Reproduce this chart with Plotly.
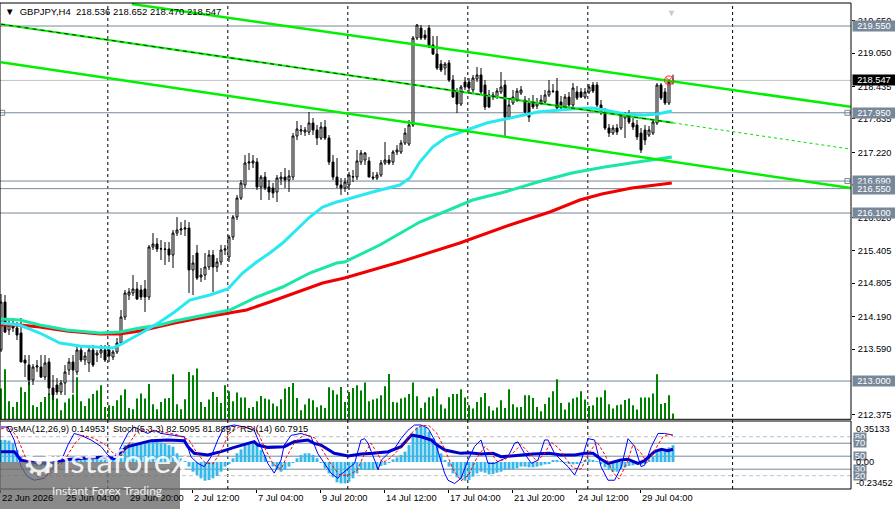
import plotly.graph_objects as go

# GBPJPY H4 candles (bar index 0 .. 168)
bars = list(range(169))

opens = [213.573, 214.458, 213.942, 214.034, 213.979, 213.886, 213.388, 213.296, 213.019, 213.259,
         213.259, 213.074, 213.351, 212.871, 212.927, 212.798, 212.964, 213.204, 213.351, 213.167,
         213.573, 213.388, 213.333, 213.573, 213.480, 213.517, 213.573, 213.573, 213.443, 213.536,
         213.702, 214.181, 214.587, 214.624, 214.698, 214.680, 214.698, 214.550, 215.473, 215.528,
         215.436, 215.436, 215.436, 215.325, 215.731, 215.787, 215.805, 215.823, 215.049, 215.362,
         214.919, 214.956, 215.104, 215.325, 215.104, 215.196, 215.417, 215.288, 215.657, 216.026,
         216.377, 216.617, 217.023, 217.023, 217.041, 216.580, 216.764, 216.580, 216.561, 216.488,
         216.727, 216.764, 216.709, 216.764, 217.521, 217.613, 217.595, 217.595, 217.761, 217.632,
         217.484, 217.687, 217.484, 217.041, 216.764, 216.617, 216.561, 216.617, 216.764, 216.764,
         217.041, 217.078, 217.060, 216.764, 216.746, 216.801, 217.023, 217.078, 217.041, 217.226,
         217.226, 217.392, 217.373, 217.724, 219.329, 219.513, 219.384, 219.513, 219.200, 219.034,
         218.849, 218.775, 218.868, 218.554, 218.333, 218.111, 218.517, 218.517, 218.370, 218.572,
         218.646, 218.462, 218.277, 218.240, 218.240, 218.333, 218.462, 217.871, 218.130, 218.185,
         218.314, 218.185, 218.130, 218.148, 218.074, 218.130, 218.148, 218.277, 218.351, 218.351,
         218.148, 218.037, 218.240, 218.093, 218.333, 218.333, 218.240, 218.333, 218.462, 218.462,
         218.093, 217.945, 217.668, 217.576, 217.668, 217.668, 217.853, 217.908, 217.761, 217.724,
         217.576, 217.632, 217.539, 217.576, 217.761, 218.462, 218.333, 218.130, 218.536]
highs = [214.606, 214.587, 214.126, 214.163, 214.089, 214.163, 213.480, 213.480, 213.314, 213.388,
         213.480, 213.480, 213.425, 213.111, 213.056, 213.019, 213.296, 213.425, 213.480, 213.665,
         213.665, 213.536, 213.609, 213.665, 213.573, 213.665, 213.665, 213.665, 213.573, 213.794,
         214.311, 214.680, 214.716, 214.956, 214.827, 214.772, 214.864, 215.510, 215.731, 215.639,
         215.602, 215.565, 215.565, 215.787, 216.026, 215.934, 215.971, 215.934, 215.325, 215.510,
         215.085, 215.362, 215.417, 215.417, 215.270, 215.510, 215.510, 215.694, 216.063, 216.432,
         216.709, 217.170, 217.207, 217.170, 217.115, 216.801, 216.857, 216.709, 216.654, 216.801,
         216.857, 216.931, 216.894, 217.576, 217.798, 217.724, 217.687, 217.964, 217.853, 217.724,
         217.779, 217.816, 217.539, 217.170, 217.115, 216.746, 216.746, 216.857, 216.894, 217.263,
         217.263, 217.226, 217.133, 216.857, 216.857, 217.078, 217.410, 217.170, 217.263, 217.355,
         217.447, 217.668, 217.816, 219.366, 219.587, 219.569, 219.477, 219.569, 219.366, 219.366,
         218.923, 218.886, 218.923, 218.646, 218.406, 218.462, 218.609, 218.591, 218.646, 218.794,
         218.775, 218.554, 218.370, 218.333, 218.406, 218.702, 218.554, 218.185, 218.370, 218.406,
         218.443, 218.259, 218.222, 218.277, 218.222, 218.277, 218.370, 218.554, 218.480, 218.591,
         218.259, 218.296, 218.333, 218.499, 218.443, 218.406, 218.406, 218.480, 218.517, 218.517,
         218.185, 218.037, 217.742, 217.724, 217.742, 217.964, 217.964, 218.001, 217.853, 217.816,
         217.668, 217.724, 217.705, 217.816, 218.499, 218.499, 218.406, 218.554, 218.652]
lows = [213.536, 213.886, 213.849, 213.905, 213.757, 213.351, 213.074, 212.927, 212.927, 213.167,
        213.056, 213.019, 212.742, 212.650, 212.742, 212.742, 212.742, 213.111, 212.779, 213.111,
        213.351, 213.296, 213.167, 213.259, 213.351, 213.425, 213.351, 213.351, 213.388, 213.499,
        213.665, 214.126, 214.495, 214.569, 214.495, 214.495, 214.274, 214.495, 215.417, 215.381,
        215.233, 215.141, 215.196, 215.085, 215.676, 215.694, 215.676, 214.624, 214.587, 214.864,
        214.827, 214.864, 215.049, 214.643, 215.012, 215.141, 215.325, 215.196, 215.602, 215.971,
        216.340, 216.561, 216.894, 216.931, 216.525, 216.340, 216.525, 216.340, 216.377, 216.303,
        216.617, 216.561, 216.488, 216.709, 217.447, 217.539, 217.521, 217.539, 217.539, 217.355,
        217.447, 217.447, 216.986, 216.709, 216.561, 216.432, 216.488, 216.525, 216.672, 216.709,
        216.986, 216.986, 216.764, 216.709, 216.709, 216.764, 216.986, 216.986, 216.986, 217.170,
        217.189, 217.355, 217.336, 217.687, 219.292, 219.292, 219.292, 219.144, 219.015, 218.739,
        218.702, 218.646, 218.517, 218.222, 217.945, 218.074, 218.370, 218.333, 218.314, 218.517,
        218.277, 218.001, 218.037, 218.185, 218.204, 218.296, 217.503, 217.835, 218.093, 218.148,
        218.277, 217.927, 217.779, 218.019, 218.019, 218.093, 218.111, 218.240, 218.314, 218.001,
        218.019, 218.001, 218.056, 218.056, 218.185, 218.222, 218.204, 218.296, 218.314, 218.056,
        217.908, 217.632, 217.503, 217.539, 217.539, 217.632, 217.484, 217.742, 217.632, 217.447,
        217.207, 217.355, 217.503, 217.539, 217.724, 218.185, 218.093, 218.093, 218.470]
closes = [214.458, 213.905, 214.034, 213.979, 213.849, 213.351, 213.333, 213.019, 213.259, 213.277,
          213.074, 213.333, 212.871, 212.742, 212.798, 212.964, 213.167, 213.351, 213.204, 213.573,
          213.388, 213.462, 213.573, 213.296, 213.517, 213.573, 213.388, 213.462, 213.536, 213.702,
          214.181, 214.624, 214.643, 214.698, 214.514, 214.550, 214.550, 215.473, 215.528, 215.436,
          215.440, 215.430, 215.325, 215.731, 215.787, 215.805, 215.823, 215.049, 215.178, 214.901,
          214.956, 215.104, 215.325, 215.104, 215.196, 215.417, 215.436, 215.657, 216.026, 216.377,
          216.654, 217.023, 217.041, 217.060, 216.580, 216.764, 216.561, 216.488, 216.469, 216.746,
          216.764, 216.709, 216.783, 217.521, 217.650, 217.632, 217.632, 217.761, 217.632, 217.484,
          217.687, 217.484, 217.041, 216.764, 216.617, 216.561, 216.672, 216.801, 216.770, 217.060,
          217.207, 217.207, 216.764, 216.746, 216.801, 217.023, 217.078, 217.023, 217.226, 217.263,
          217.392, 217.576, 217.724, 219.329, 219.569, 219.329, 219.329, 219.163, 219.034, 218.775,
          218.739, 218.849, 218.554, 218.240, 218.111, 218.425, 218.425, 218.406, 218.591, 218.646,
          218.333, 218.056, 218.056, 218.277, 218.351, 218.425, 217.871, 218.093, 218.240, 218.351,
          218.370, 217.964, 217.871, 218.056, 218.130, 218.185, 218.277, 218.351, 218.345, 218.037,
          218.037, 218.240, 218.093, 218.406, 218.222, 218.240, 218.333, 218.425, 218.351, 218.093,
          217.945, 217.668, 217.576, 217.668, 217.595, 217.908, 217.908, 217.779, 217.687, 217.503,
          217.263, 217.447, 217.632, 217.779, 218.462, 218.222, 218.130, 218.517, 218.547]

volumes = [3070, 5000, 1800, 1230, 1730, 3200, 2730, 3730, 1400, 1230,
           1730, 2230, 2570, 2400, 2070, 900, 1670, 2070, 2470, 4200,
           1800, 1330, 2070, 2530, 2870, 3400, 1230, 1400, 1330, 1900,
           2400, 3000, 1130, 1000, 2070, 2570, 2070, 3530, 1500, 1000,
           1730, 2070, 2130, 4500, 1500, 1000, 2000, 4730, 4400, 5070,
           1730, 1230, 1970, 2730, 2230, 1630, 3400, 2800, 1800, 2670,
           2170, 2170, 1130, 1230, 1800, 2330, 2070, 1970, 1570, 1300,
           2000, 3070, 3230, 3630, 2130, 900, 1470, 2070, 1900, 1200,
           1400, 1130, 3200, 2900, 2470, 3230, 1730, 2730, 3130, 3400,
           2870, 3670, 1800, 1970, 2070, 2400, 3300, 4530, 1730, 1670,
           2070, 2170, 2530, 3670, 2300, 1130, 1670, 2200, 2300, 3070,
           1470, 1070, 2200, 2530, 2530, 3000, 2170, 1400, 1070, 1730,
           2200, 2630, 1300, 870, 1170, 1900, 1130, 3000, 1500, 1200,
           1230, 2400, 2400, 2130, 1230, 800, 1530, 2170, 2800, 4000,
           1630, 970, 1670, 2070, 2200, 2800, 1970, 1330, 1400, 2200,
           2200, 2900, 1500, 1070, 1400, 1470, 1930, 2070, 1400, 970,
           2170, 2170, 2170, 2570, 4500, 1530, 1630, 2400, 570]

# moving averages, sampled along the lines (bar, price)
ma_fast_x = [0, 4.7, 9.7, 14.7, 19.7, 24.7, 27.9, 29.7, 32.9, 36.4, 39.7, 43.4, 47.2, 52.2, 56.7,
             60.4, 63.9, 67.2, 70.4, 73.9, 77.2, 80.4, 83.9, 85.9, 92.9, 99.7, 102.2, 104.7, 107.9,
             111.4, 116.4, 121.4, 128.4, 134.2, 142.7, 147.7, 150.9, 155.9, 160.9, 164.2, 167.7]
ma_fast_y = [214.071, 214.034, 213.886, 213.702, 213.646, 213.628, 213.609, 213.665, 213.794, 213.942,
             214.089, 214.274, 214.495, 214.587, 214.698, 214.993, 215.196, 215.362, 215.547, 215.787,
             216.026, 216.211, 216.303, 216.340, 216.488, 216.617, 216.746, 217.041, 217.318, 217.503,
             217.632, 217.761, 217.871, 217.964, 218.019, 218.037, 218.001, 217.927, 217.908, 217.927,
             217.982]
ma_mid_x = [0, 4.7, 9.7, 16.4, 24.7, 29.7, 34.7, 39.7, 43.4, 49.7, 57.2, 63.9, 70.4, 77.2, 83.9,
            85.9, 94.7, 104.7, 117.9, 125.9, 134.2, 142.7, 150.9, 159.2, 167.7]
ma_mid_y = [214.145, 214.126, 214.034, 213.942, 213.886, 213.905, 213.979, 214.034, 214.107, 214.200,
            214.311, 214.550, 214.735, 214.993, 215.178, 215.196, 215.510, 215.934, 216.340, 216.488,
            216.672, 216.838, 216.949, 217.041, 217.133]
ma_slow_x = [0, 4.7, 9.7, 16.4, 24.7, 29.7, 34.7, 39.7, 43.4, 49.7, 61.4, 67.2, 75.4, 80.4, 85.9,
             99.7, 114.7, 127.2, 137.2, 144.7, 150.2, 157.7, 167.7]
ma_slow_y = [214.034, 214.034, 213.997, 213.923, 213.868, 213.868, 213.923, 214.015, 214.071, 214.163,
             214.311, 214.458, 214.680, 214.809, 214.901, 215.196, 215.547, 215.879, 216.119, 216.340,
             216.451, 216.561, 216.654]

# trend channel (bar, price) anchors
chan_top_x = [32.7, 212.4]
chan_top_y = [219.956, 218.060]
chan_mid_x = [0, 168]
chan_mid_y = [219.584, 217.764]
chan_mid_ext_x = [168, 212.4]
chan_mid_ext_y = [217.764, 217.279]
chan_low_x = [0, 212.4]
chan_low_y = [218.882, 216.561]

levels = [219.550, 217.950, 216.690, 216.550, 216.100, 213.000]
last_price = 218.547
price_ticks = [219.650, 219.050, 218.435, 217.835, 217.220, 216.620, 216.020,
               215.405, 214.805, 214.190, 213.590, 212.375]

time_ticks = [0, 16, 32, 48, 64, 80, 96, 112, 128, 144, 160]
time_labels = ["22 Jun 2026", "25 Jun 04:00", "29 Jun 20:00", "2 Jul 12:00", "7 Jul 04:00",
               "9 Jul 20:00", "14 Jul 12:00", "17 Jul 04:00", "21 Jul 20:00", "24 Jul 12:00",
               "29 Jul 04:00"]
grid_bars = [26.7, 56.7, 86.7, 116.7, 146.7, 182.9]

# OsMA(12,26,9) histogram
osma = [0.195, 0.195, 0.19, 0.166, 0.107, 0.047, 0.003, -0.027, -0.041, -0.041,
        -0.041, -0.035, -0.041, -0.035, -0.018, -0.006, 0.012, 0.024, 0.033, 0.041,
        0.047, 0.041, 0.038, 0.033, 0.030, 0.024, 0.018, 0.012, 0.024, 0.077,
        0.121, 0.150, 0.166, 0.172, 0.172, 0.160, 0.160, 0.180, 0.189, 0.180,
        0.172, 0.160, 0.150, 0.136, 0.077, 0.033, 0.003, -0.041, -0.086, -0.115,
        -0.145, -0.166, -0.160, -0.145, -0.124, -0.086, -0.041, -0.012, 0.033, 0.077,
        0.112, 0.150, 0.172, 0.180, 0.160, 0.107, 0.062, 0.003, -0.041, -0.071,
        -0.086, -0.071, -0.041, -0.006, 0.033, 0.062, 0.077, 0.077, 0.062, 0.033,
        -0.006, -0.056, -0.101, -0.136, -0.180, -0.190, -0.190, -0.175, -0.145, -0.101,
        -0.071, -0.071, -0.071, -0.071, -0.056, -0.035, -0.027, -0.006, 0.024, 0.041,
        0.062, 0.092, 0.150, 0.254, 0.308, 0.320, 0.308, 0.270, 0.210, 0.150,
        0.077, 0.018, -0.041, -0.101, -0.136, -0.154, -0.166, -0.160, -0.130, -0.101,
        -0.086, -0.095, -0.110, -0.107, -0.095, -0.086, -0.071, -0.065, -0.065, -0.056,
        -0.041, -0.041, -0.047, -0.047, -0.041, -0.032, -0.021, -0.012, 0.012, 0.012,
        0.003, -0.006, -0.018, -0.021, -0.012, -0.006, 0.012, 0.024, 0.018, 0.003,
        -0.018, -0.047, -0.071, -0.086, -0.086, -0.065, -0.047, -0.035, -0.030, -0.024,
        -0.024, -0.012, 0.012, 0.047, 0.085, 0.100, 0.115, 0.130, 0.1495]

# Stochastic(5,3,3) main / signal and RSI(14), sampled
stoch_x = [0, 1.7, 3.3, 5, 6.7, 8.3, 10.8, 13.3, 15, 16.7, 18.3, 20, 22.5, 25, 26.7, 28.3, 30,
           31.7, 33.3, 35, 36.7, 38.3, 40, 43.3, 45.8, 47.5, 49.2, 50.8, 52.5, 54.2, 55.8, 58.3,
           60.8, 63.3, 65, 66.7, 68.3, 70, 70.8, 72.5, 75, 77.5, 79.2, 80.8, 82.5, 84.2, 85,
           88.4, 90, 90.9, 91.75, 93.4, 94.25, 95.1, 96.75, 98.4, 100, 101.75, 103.4, 105, 106.75,
           108.4, 110, 110.9, 111.75, 113.4, 115, 116.75, 118.4, 120, 121.75, 123.4, 125, 126.75,
           128.4, 129.25, 130.9, 132.6, 134.25, 135.9, 136.75, 138.4, 140, 141.75, 143.4, 145.1,
           146.75, 148.4, 150, 151.75, 153.4, 155.1, 156.75, 158.4, 160, 160.9, 162.6, 164.25,
           165.9, 168]
stoch_main = [95, 95, 75, 34, 18, 13, 16, 34, 42, 67, 85, 82, 75, 65, 52, 44, 65,
              85, 95, 90, 85, 90, 85, 82, 80, 49, 39, 34, 49, 75, 95, 98,
              95, 90, 65, 39, 24, 44, 67, 82, 85, 80, 54, 39, 24, 16, 22,
              39, 75, 77, 70, 44, 29, 44, 54, 62, 77, 90, 98, 98, 93,
              75, 44, 24, 13, 8, 16, 44, 65, 75, 39, 39, 44, 49,
              70, 72, 54, 39, 44, 75, 75, 54, 44, 34, 21, 44,
              77, 75, 34, 13, 13, 34, 77, 65, 34, 36, 65, 85,
              85, 82.51]
signal_x = [0, 2, 4, 6, 8, 10, 12, 14.5, 16.5, 18.5, 20.5, 23, 26, 28, 30, 32, 34, 36, 38, 40,
            44, 47, 49, 51, 53, 55, 57, 59.5, 62, 64, 66, 68, 70, 71.5, 73.5, 76, 78.5, 80.5,
            82.5, 84.5, 86.5, 89, 91, 92.5, 94, 95.5, 97.5, 99, 101, 103, 105, 107, 109, 111,
            113, 115, 117, 119, 121, 122.5, 124, 126, 128, 130, 132, 134, 136, 137.5, 139.5,
            141, 143, 145, 147, 149, 151, 153, 154.5, 156.5, 158, 160, 161.5, 163.5, 165.5,
            167, 168]
stoch_signal = [92, 95, 80, 50, 25, 15, 22, 33, 50, 70, 82, 78, 68, 55, 50, 70, 88, 92, 88, 88,
                83, 75, 55, 40, 38, 58, 85, 95, 96, 90, 62, 38, 30, 50, 72, 84, 78, 58,
                38, 22, 20, 28, 55, 70, 55, 40, 48, 58, 70, 88, 97, 97, 85, 60,
                30, 12, 22, 48, 65, 55, 42, 45, 55, 68, 55, 42, 55, 72, 62,
                48, 32, 30, 55, 72, 52, 25, 15, 40, 68, 55, 40, 60, 80,
                84, 81.89]
rsi_x = [0, 3.3, 5, 8.3, 12.5, 16.7, 20.8, 25, 28.3, 30, 31.7, 35, 37.5, 41.7, 45.8, 46.7, 48.3,
         51.7, 55, 58.3, 61.7, 63.3, 64.2, 66.7, 70.8, 73.3, 76.7, 78.3, 80, 81.7, 83.3, 86.8,
         90, 93, 96.8, 100, 102.6, 105, 107.6, 109, 111, 113, 115, 117, 120, 123, 125, 127.5,
         130, 133, 137, 140, 143.5, 146, 148, 150, 151.8, 155, 156.7, 159.25, 160.9, 163.4,
         165.1, 166.75, 168]
rsi = [57, 57, 44, 40, 39, 45, 46.7, 48.3, 46.7, 57, 64.7, 69.8, 73.9, 74.9, 73.9, 64.7, 54.4,
       51.9, 57, 63.6, 69.8, 72.4, 67.2, 63.6, 64.7, 72.4, 74.9, 69.8, 67.2, 60.6, 54.4, 50.3,
       53.4, 54.4, 57, 64.7, 82.6, 80, 74.9, 67.2, 59.5, 57, 54.4, 55.4, 53.4, 54.4, 49.3, 50.3,
       51.9, 53.4, 54.4, 51.9, 51.9, 54.4, 54.4, 45.2, 39, 44.2, 45.2, 39, 43.2, 57,
       60.6, 58.5, 60.79]
osc_levels = [80, 70, 50, 30, 20]

FONT = "Liberation Sans"
FS = 9.3
SLATE = "#778899"

fig = go.Figure()

# volumes on the base axis so the candles sit above them
fig.add_trace(go.Bar(x=bars, y=volumes, width=0.25, marker=dict(color="#008000", line=dict(width=0)),
                     xaxis="x", yaxis="y", hoverinfo="skip"))

fig.add_trace(go.Candlestick(x=bars, open=opens, high=highs, low=lows, close=closes,
                             increasing=dict(line=dict(color="black", width=1), fillcolor="white"),
                             decreasing=dict(line=dict(color="black", width=1), fillcolor="black"),
                             whiskerwidth=0, xaxis="x", yaxis="y3"))

fig.add_trace(go.Scatter(x=ma_slow_x, y=ma_slow_y, mode="lines", line=dict(color="#F00000", width=3),
                         xaxis="x", yaxis="y3"))
fig.add_trace(go.Scatter(x=ma_mid_x, y=ma_mid_y, mode="lines", line=dict(color="#1AE6A8", width=3),
                         xaxis="x", yaxis="y3"))
fig.add_trace(go.Scatter(x=ma_fast_x, y=ma_fast_y, mode="lines", line=dict(color="#2AE8F2", width=3),
                         xaxis="x", yaxis="y3"))

# channel
fig.add_trace(go.Scatter(x=chan_top_x, y=chan_top_y, mode="lines", line=dict(color="#00F000", width=2.5),
                         xaxis="x", yaxis="y3"))
fig.add_trace(go.Scatter(x=chan_low_x, y=chan_low_y, mode="lines", line=dict(color="#00F000", width=2.5),
                         xaxis="x", yaxis="y3"))
fig.add_trace(go.Scatter(x=chan_mid_x, y=chan_mid_y, mode="lines", line=dict(color="#00F000", width=2),
                         xaxis="x", yaxis="y3"))
fig.add_trace(go.Scatter(x=chan_mid_x, y=chan_mid_y, mode="lines",
                         line=dict(color="#202020", width=1, dash="4px,4px"), xaxis="x", yaxis="y3"))
fig.add_trace(go.Scatter(x=chan_mid_ext_x, y=chan_mid_ext_y, mode="lines",
                         line=dict(color="#00E000", width=1, dash="3px,3px"), xaxis="x", yaxis="y3"))

# alert marker at the current bar and object handles
fig.add_trace(go.Scatter(x=[167], y=[last_price], mode="markers",
                         marker=dict(symbol="circle-x-open", size=9, color="#FF2020", line=dict(width=1)),
                         xaxis="x", yaxis="y3"))
fig.add_trace(go.Scatter(x=[0.3, 211.6, 211.6], y=[levels[1], levels[1], levels[2]], mode="markers",
                         marker=dict(symbol="square-open", size=5, color=SLATE, line=dict(width=1)),
                         cliponaxis=False, xaxis="x", yaxis="y3"))

# oscillator window
fig.add_trace(go.Bar(x=bars, y=osma, width=0.72, marker=dict(color="#36B8EA", line=dict(width=0)),
                     xaxis="x", yaxis="y2", hoverinfo="skip"))
fig.add_trace(go.Scatter(x=rsi_x, y=rsi, mode="lines", line=dict(color="#0000CD", width=3),
                         xaxis="x", yaxis="y4"))
fig.add_trace(go.Scatter(x=stoch_x, y=stoch_main, mode="lines", line=dict(color="#0000FF", width=1),
                         xaxis="x", yaxis="y4"))
fig.add_trace(go.Scatter(x=signal_x, y=stoch_signal, mode="lines",
                         line=dict(color="#FF0000", width=1, dash="3px,2px"), xaxis="x", yaxis="y4"))

shapes = []
for g in grid_bars:
    shapes.append(dict(type="line", xref="x", yref="paper", x0=g, x1=g, y0=0, y1=1,
                       line=dict(color="black", width=1, dash="3px,3px"), layer="below"))
for lv in levels:
    shapes.append(dict(type="line", xref="paper", yref="y3", x0=0, x1=1, y0=lv, y1=lv,
                       line=dict(color=SLATE, width=1), layer="below"))
shapes.append(dict(type="line", xref="paper", yref="y3", x0=0, x1=1, y0=last_price, y1=last_price,
                   line=dict(color="#C0C0C0", width=1), layer="below"))
for lv in osc_levels:
    dashed = lv in (80, 20)
    shapes.append(dict(type="line", xref="paper", yref="y4", x0=0, x1=1, y0=lv, y1=lv,
                       line=dict(color="#C0C0C0" if dashed else SLATE, width=1,
                                 dash="4px,3px" if dashed else "solid"), layer="below"))
# window frames
shapes.append(dict(type="rect", xref="paper", yref="paper", x0=0, x1=1, y0=0.1434, y1=1,
                   line=dict(color="black", width=1)))
shapes.append(dict(type="rect", xref="paper", yref="paper", x0=0, x1=1, y0=0, y1=0.1399,
                   line=dict(color="black", width=1)))
# instaforex watermark box
shapes.append(dict(type="rect", xref="paper", yref="paper", x0=-0.01, x1=180 / 851,
                   y0=-20 / 486, y1=(489 - 462) / 486, fillcolor="rgba(105,105,105,0.78)",
                   line=dict(width=0), layer="above"))

ann = []
ann.append(dict(x=3 / 851, y=(489 - 11) / 486, xref="paper", yref="paper", xanchor="left",
                yanchor="middle", showarrow=False, text="▼  GBPJPY,H4  218.536 218.652 218.470 218.547",
                font=dict(family=FONT, size=9.5, color="black")))
ann.append(dict(x=678 / 851, y=(489 - 6) / 486, xref="paper", yref="paper", showarrow=False,
                text="▼", font=dict(size=9, color="#C8C8C8")))
for lv in levels:
    ann.append(dict(x=1, y=lv, xref="paper", yref="y3", xanchor="left", yanchor="middle", xshift=1,
                    showarrow=False, text=f"{lv:.3f}", bgcolor=SLATE, width=42, height=10,
                    borderpad=0, font=dict(family=FONT, size=FS, color="white")))
ann.append(dict(x=1, y=last_price, xref="paper", yref="y3", xanchor="left", yanchor="middle", xshift=1,
                showarrow=False, text=f"{last_price:.3f}", bgcolor="black", width=42, height=10,
                borderpad=0, font=dict(family=FONT, size=FS, color="white")))

for lv in osc_levels:
    ann.append(dict(x=1, y=lv, xref="paper", yref="y4", xanchor="left", yanchor="middle", xshift=2,
                    showarrow=False, text=str(lv), bgcolor=SLATE, width=12, height=8,
                    borderpad=0, font=dict(family=FONT, size=FS, color="white")))
for txt, val in [("0.35133", 0.293), ("0.00", 0.0), ("-0.23452", -0.184)]:
    ann.append(dict(x=1, y=val, xref="paper", yref="y2", xanchor="left", yanchor="middle", xshift=3,
                    showarrow=False, text=txt, font=dict(family=FONT, size=FS, color="black")))

for txt, px in [("OsMA(12,26,9) 0.14953", 4), ("Stoch(5,3,3) 82.5095 81.8897", 111),
                ("RSI(14) 60.7915", 238)]:
    ann.append(dict(x=px / 851, y=(489 - 429) / 486, xref="paper", yref="paper", xanchor="left",
                    yanchor="middle", showarrow=False, text=txt,
                    font=dict(family=FONT, size=FS, color="black")))

for tb, tl in zip(time_ticks, time_labels):
    ann.append(dict(x=tb - 0.25, y=0, xref="x", yref="paper", xanchor="left", yanchor="middle",
                    yshift=-9, xshift=0, showarrow=False, text=tl,
                    font=dict(family=FONT, size=FS, color="black")))

ann.append(dict(x=20 / 851, y=(489 - 486) / 486, xref="paper", yref="paper", showarrow=False,
                text="⚙", font=dict(family="DejaVu Sans", size=38, color="rgba(255,255,255,0.85)")))
ann.append(dict(x=42 / 851, y=(489 - 482) / 486, xref="paper", yref="paper", xanchor="left",
                showarrow=False, text="instaforex",
                font=dict(family="Lato", size=33, color="rgba(255,255,255,0.9)")))
ann.append(dict(x=50 / 851, y=(489 - 500) / 486, xref="paper", yref="paper", xanchor="left",
                showarrow=False, text="Instant Forex Trading",
                font=dict(family="Lato", size=12, color="rgba(255,255,255,0.9)")))

fig.update_layout(
    width=895, height=509,
    margin=dict(l=0, r=44, t=3, b=20, autoexpand=False),
    paper_bgcolor="white", plot_bgcolor="white",
    showlegend=False, barmode="overlay", hovermode=False,
    font=dict(family=FONT, size=FS, color="black"),
    xaxis=dict(domain=[0, 1], range=[-0.25, 212.5], anchor="y2", showgrid=False, zeroline=False,
               tickvals=[t - 0.25 for t in time_ticks], showticklabels=False, ticks="outside",
               ticklen=3, tickcolor="black", rangeslider=dict(visible=False), automargin=False),
    yaxis=dict(domain=[0.1434, 1], range=[0, 41630], visible=False, anchor="x", automargin=False),
    yaxis3=dict(overlaying="y", side="right", anchor="x", range=[212.294, 219.975],
                tickvals=price_ticks, ticktext=[f"{p:.3f}" for p in price_ticks],
                ticks="outside", ticklen=3, tickcolor="black", showgrid=False, zeroline=False,
                showline=False, automargin=False, ticklabelstandoff=1,
                tickfont=dict(family=FONT, size=FS, color="black")),
    yaxis2=dict(domain=[0, 0.1399], range=[-0.2397, 0.364], visible=False, anchor="x", automargin=False),
    yaxis4=dict(overlaying="y2", range=[-0.46, 104.15], visible=False, automargin=False),
    shapes=shapes,
    annotations=ann,
)

# the page body has a default 8px margin; drop it so the chart sits at the window corner
fig.write_html("out.html", config={"displayModeBar": False},
               post_script="document.body.style.margin='0';")
